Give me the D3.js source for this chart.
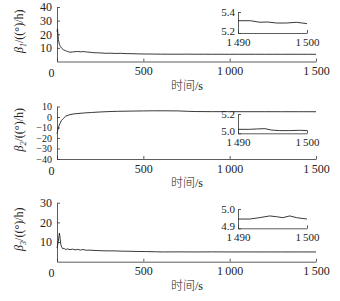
<!DOCTYPE html>
<html>
<head>
<meta charset="utf-8">
<script src="https://cdn.jsdelivr.net/npm/d3@7"></script>
<style>
  body { margin: 0; background: #fff; }
  text { font-family: "Liberation Serif", "Noto Sans CJK SC", serif; fill: #222; }
</style>
</head>
<body>
<div id="vis"></div>
<script>
// main series (time in s)
const time1 = [0, 3, 8, 14, 20, 28, 37, 50, 62, 75, 90, 105, 120, 135, 152, 170, 190, 210, 235, 260, 285, 310, 340, 370, 400, 440, 480, 520, 560, 600, 650, 700, 750, 800, 850, 900, 950, 1000, 1050, 1100, 1150, 1200, 1250, 1300, 1350, 1400, 1450, 1500];
const beta1 = [22, 24, 16, 12.5, 11, 9.6, 8.6, 7.9, 7.3, 6.8, 7.0, 7.2, 7.4, 7.1, 7.3, 7.0, 6.8, 6.5, 6.4, 6.2, 6.0, 6.1, 5.9, 6.0, 5.8, 5.7, 5.55, 5.5, 5.45, 5.4, 5.35, 5.35, 5.4, 5.33, 5.35, 5.3, 5.33, 5.3, 5.32, 5.3, 5.31, 5.3, 5.32, 5.3, 5.31, 5.3, 5.29, 5.29];

const time2 = [0, 4, 10, 17, 25, 36, 50, 75, 100, 153, 200, 250, 307, 350, 423, 500, 560, 620, 700, 760, 800, 900, 1000, 1100, 1200, 1300, 1400, 1500];
const beta2 = [-15.8, -13, -9, -6.3, -3.5, -1.5, 0.8, 2.3, 3.0, 3.8, 4.3, 4.8, 5.2, 5.4, 5.6, 5.8, 5.9, 5.9, 5.8, 5.4, 5.2, 5.1, 5.1, 5.05, 5.05, 5.04, 5.04, 5.03];

const time3 = [0, 5, 10, 14, 18, 22, 27, 33, 40, 50, 62, 75, 90, 105, 120, 135, 150, 170, 190, 220, 250, 290, 330, 380, 423, 470, 520, 570, 616, 700, 800, 900, 1000, 1100, 1200, 1300, 1400, 1500];
const beta3 = [7, 9, 12, 14.6, 12, 8.7, 7.5, 6.6, 6.8, 6.2, 6.5, 6.1, 6.4, 6.0, 6.3, 5.9, 6.2, 5.8, 5.9, 5.7, 5.6, 5.5, 5.5, 5.35, 5.3, 5.2, 5.15, 5.05, 4.95, 5.0, 4.95, 5.0, 4.95, 4.97, 4.95, 4.96, 4.95, 4.95];

// zoomed tails, 1490-1500 s
const insetTime1 = [1490, 1491.8, 1493.2, 1494.2, 1495.6, 1497, 1498.5, 1500];
const inset1 = [5.317, 5.317, 5.302, 5.305, 5.295, 5.295, 5.302, 5.289];
const insetTime2 = [1490, 1491.7, 1492.7, 1493.9, 1494.8, 1496, 1497.5, 1498.9, 1500];
const inset2 = [5.041, 5.041, 5.045, 5.048, 5.034, 5.028, 5.028, 5.031, 5.028];
const insetTime3 = [1490, 1491.7, 1493.1, 1494.6, 1495.6, 1496.5, 1497.5, 1498.5, 1500];
const inset3 = [4.948, 4.948, 4.955, 4.964, 4.960, 4.955, 4.964, 4.955, 4.948];

const xTicks = [0, 500, 1000, 1500];
const insetXTicks = [1490, 1500];
const yTicks1 = [10, 20, 30, 40];
const yTicks2 = [-40, -30, -20, -10, 0, 10];
const yTicks3 = [10, 20, 30];
const insetYTicks1 = [5.2, 5.4];
const insetYTicks2 = [5.0, 5.2];
const insetYTicks3 = [4.9, 5.0];

const width = 340, height = 301;
const svg = d3.select("#vis").append("svg")
  .attr("width", width).attr("height", height);

const fmtThousands = d => {
  const s = String(d);
  return s.length > 3 ? s.slice(0, s.length - 3) + "\u2009" + s.slice(-3) : s;
};

const panels = [
  { t: time1, v: beta1, dom: [0, 40], yr: [61.5, 7], yt: yTicks1, sub: "1", yfs: 12,
    it: insetTime1, iv: inset1, idom: [5.2, 5.4], iyr: [33, 12], iyt: insetYTicks1 },
  { t: time2, v: beta2, dom: [-40, 10], yr: [159, 106.5], yt: yTicks2, sub: "2", yfs: 10,
    it: insetTime2, iv: inset2, idom: [5.0, 5.2], iyr: [133.3, 114], iyt: insetYTicks2 },
  { t: time3, v: beta3, dom: [0, 30], yr: [261.7, 202.7], yt: yTicks3, sub: "3", yfs: 12,
    it: insetTime3, iv: inset3, idom: [4.9, 5.0], iyr: [228.3, 209], iyt: insetYTicks3 }
];

const x = d3.scaleLinear().domain([0, 1500]).range([57, 316]);
const xi = d3.scaleLinear().domain([1490, 1500]).range([238, 307]);

panels.forEach(p => {
  const y = d3.scaleLinear().domain(p.dom).range(p.yr);
  const g = svg.append("g");

  const xAxis = g.append("g")
    .attr("transform", `translate(0,${p.yr[0]})`)
    .call(d3.axisBottom(x).tickValues(xTicks).tickFormat(fmtThousands)
      .tickSizeInner(-3).tickSizeOuter(0).tickPadding(5));
  xAxis.selectAll("text").style("font-size", "12px")
    .attr("dx", d => d === 0 ? -6 : 0)
    .attr("dy", d => d === 0 ? "0.9em" : "0.71em");

  const yAxis = g.append("g")
    .attr("transform", `translate(${x(0)},0)`)
    .call(d3.axisLeft(y).tickValues(p.yt)
      .tickSizeInner(-3).tickSizeOuter(0).tickPadding(5));
  yAxis.selectAll("text").style("font-size", p.yfs + "px");
  g.selectAll(".domain, .tick line").attr("stroke", "#333").attr("stroke-width", 0.8);

  g.append("path")
    .datum(p.t.map((d, i) => [d, p.v[i]]))
    .attr("fill", "none").attr("stroke", "#222").attr("stroke-width", 0.9)
    .attr("d", d3.line().x(d => x(d[0])).y(d => y(d[1])));

  // x label
  g.append("text")
    .attr("x", 187).attr("y", p.yr[0] + 28)
    .attr("text-anchor", "middle").style("font-size", "12px")
    .style("font-weight", 300)
    .text("时间/s");

  // y label
  const yl = g.append("text")
    .attr("transform", `translate(23,${(p.yr[0] + p.yr[1]) / 2 - 3}) rotate(-90)`)
    .attr("text-anchor", "middle").style("font-size", "12px");
  yl.append("tspan").style("font-style", "italic").text("β");
  yl.append("tspan").style("font-style", "italic").style("font-size", "8px")
    .attr("dy", 3).text(p.sub);
  yl.append("tspan").attr("dy", -3).text("/((°)/h)");

  // inset
  const yi = d3.scaleLinear().domain(p.idom).range(p.iyr);
  const ig = g.append("g");
  const ixAxis = ig.append("g")
    .attr("transform", `translate(0,${p.iyr[0]})`)
    .call(d3.axisBottom(xi).tickValues(insetXTicks).tickFormat(fmtThousands)
      .tickSizeInner(-3).tickSizeOuter(0).tickPadding(5));
  ixAxis.selectAll("text").style("font-size", "11px");
  const iyAxis = ig.append("g")
    .attr("transform", `translate(${xi(1490)},0)`)
    .call(d3.axisLeft(yi).tickValues(p.iyt).tickFormat(d3.format(".1f"))
      .tickSizeInner(-3).tickSizeOuter(0).tickPadding(3));
  iyAxis.selectAll("text").style("font-size", "11px")
    .attr("dy", (d, i) => i === 0 ? "0.1em" : "0.32em");
  ig.selectAll(".domain, .tick line").attr("stroke", "#333").attr("stroke-width", 0.8);

  ig.append("path")
    .datum(p.it.map((d, i) => [d, p.iv[i]]))
    .attr("fill", "none").attr("stroke", "#222").attr("stroke-width", 0.9)
    .attr("d", d3.line().x(d => xi(d[0])).y(d => yi(d[1])));
});
</script>
</body>
</html>
